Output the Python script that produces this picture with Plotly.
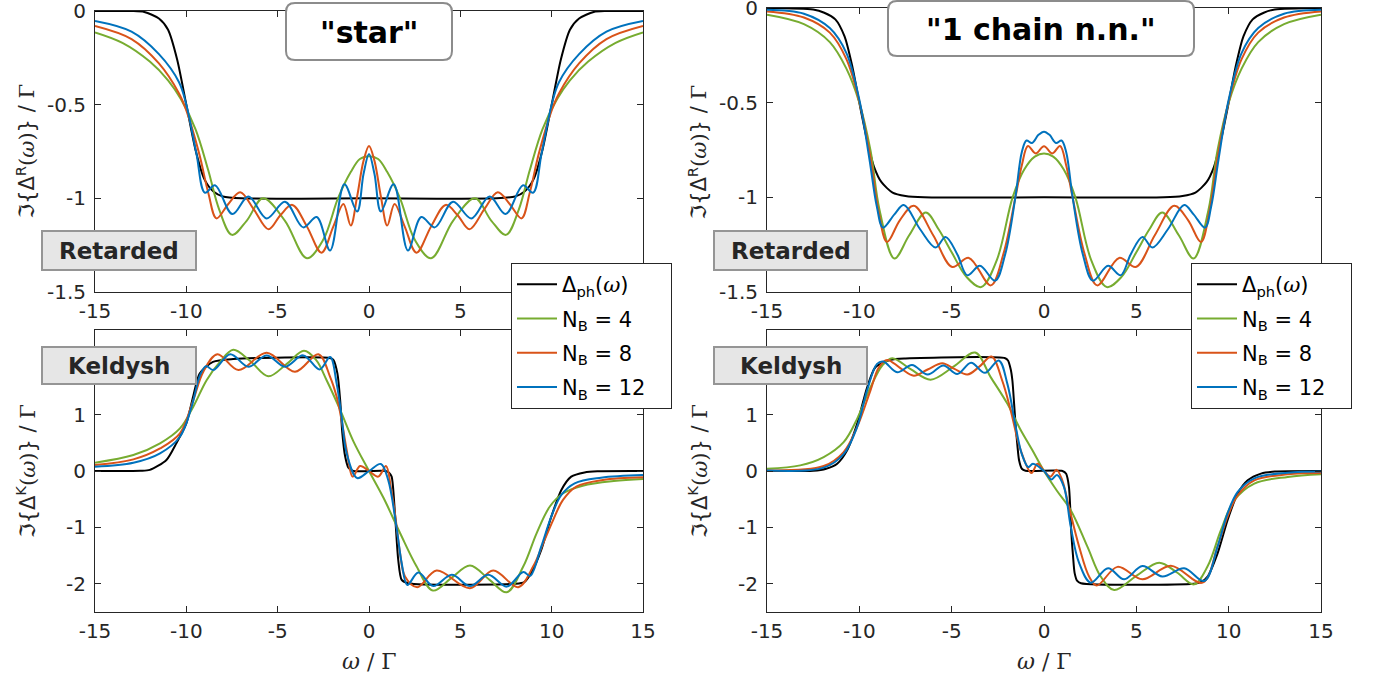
import plotly.graph_objects as go

# ---------------- data ----------------
# Panel A: "star", Retarded
A_ph_x = [-15, -13, -12.3, -11.5, -11, -10.5, -10, -9.5, -9, -8.5, -8, -7, 0, 7, 8, 8.5, 9, 9.5, 10, 10.5, 11, 11.5, 12.3, 13, 15]
A_ph_y = [0, 0, -0.005, -0.04, -0.1, -0.26, -0.5, -0.74, -0.9, -0.965, -0.99, -1.0, -1.0, -1.0, -0.99, -0.965, -0.9, -0.74, -0.5, -0.26, -0.1, -0.04, -0.005, 0, 0]
A_n4_x = [-15, -13.5, -12, -11, -10.3, -9.5, -8.8, -8.2, -7.5, -6.7, -5.8, -4.6, -3.4, -2.5, -1.7, -1.0, -0.5, 0, 0.5, 1.0, 1.7, 2.5, 3.4, 4.6, 5.8, 6.7, 7.5, 8.2, 8.8, 9.5, 10.3, 11, 12, 13.5, 15]
A_n4_y = [-0.114, -0.17, -0.27, -0.37, -0.47, -0.63, -0.85, -1.06, -1.195, -1.12, -1.0, -1.12, -1.32, -1.22, -1.0, -0.86, -0.79, -0.775, -0.79, -0.86, -1.0, -1.22, -1.32, -1.12, -1.0, -1.12, -1.195, -1.06, -0.85, -0.63, -0.47, -0.37, -0.27, -0.17, -0.114]
A_n8_x = [-15, -13, -11.5, -10.4, -10, -9.3, -8.8, -8.35, -7.7, -7.05, -6.3, -5.5, -4.85, -4.2, -3.4, -2.6, -1.95, -1.4, -1.0, -0.65, -0.3, 0, 0.3, 0.65, 1.0, 1.4, 1.95, 2.6, 3.4, 4.2, 4.85, 5.5, 6.3, 7.05, 7.7, 8.35, 8.8, 9.3, 10, 10.4, 11.5, 13, 15]
A_n8_y = [-0.08, -0.15, -0.28, -0.44, -0.53, -0.76, -0.97, -1.107, -1.03, -0.968, -1.06, -1.165, -1.09, -1.035, -1.15, -1.29, -1.15, -1.03, -1.145, -0.99, -0.80, -0.72, -0.80, -0.99, -1.145, -1.03, -1.15, -1.29, -1.15, -1.035, -1.09, -1.165, -1.06, -0.968, -1.03, -1.107, -0.97, -0.76, -0.53, -0.44, -0.28, -0.15, -0.08]
A_n12_x = [-15, -13, -11.5, -10.4, -10, -9.45, -8.98, -8.43, -7.48, -6.6, -5.6, -4.6, -3.6, -2.86, -2.13, -1.35, -0.65, -0.3, 0, 0.3, 0.65, 1.35, 2.13, 2.86, 3.6, 4.6, 5.6, 6.6, 7.48, 8.43, 8.98, 9.45, 10, 10.4, 11.5, 13, 15]
A_n12_y = [-0.053, -0.11, -0.23, -0.38, -0.50, -0.76, -0.97, -0.93, -1.084, -0.99, -1.107, -1.018, -1.155, -1.10, -1.278, -0.925, -1.07, -0.87, -0.763, -0.87, -1.07, -0.925, -1.278, -1.10, -1.155, -1.018, -1.107, -0.99, -1.084, -0.93, -0.97, -0.76, -0.50, -0.38, -0.23, -0.11, -0.053]

# Panel B: "1 chain n.n.", Retarded
B_ph_x = [-15, -12.5, -11.9, -11.3, -10.8, -10.4, -10, -9.6, -9.2, -8.8, -8.2, -7.5, -6.5, 0, 6.5, 7.5, 8.2, 8.8, 9.2, 9.6, 10, 10.4, 10.8, 11.3, 11.9, 12.5, 15]
B_ph_y = [0, -0.008, -0.025, -0.06, -0.15, -0.3, -0.5, -0.69, -0.84, -0.92, -0.975, -0.993, -1.0, -1.0, -1.0, -0.993, -0.975, -0.92, -0.84, -0.69, -0.5, -0.3, -0.15, -0.06, -0.025, -0.008, 0]
B_n4_x = [-15, -13, -11.6, -10.7, -10, -9.4, -8.9, -8.1, -7.3, -6.4, -5.7, -5.0, -4.2, -3.4, -2.55, -1.7, -1.07, -0.5, 0, 0.5, 1.07, 1.7, 2.55, 3.4, 4.2, 5.0, 5.7, 6.4, 7.3, 8.1, 8.9, 9.4, 10, 10.7, 11.6, 13, 15]
B_n4_y = [-0.035, -0.085, -0.18, -0.32, -0.50, -0.75, -1.07, -1.323, -1.2, -1.08, -1.17, -1.29, -1.42, -1.474, -1.33, -1.0, -0.853, -0.785, -0.768, -0.785, -0.853, -1.0, -1.33, -1.474, -1.42, -1.29, -1.17, -1.08, -1.2, -1.323, -1.07, -0.75, -0.50, -0.32, -0.18, -0.085, -0.035]
B_n8_x = [-15, -13, -11.6, -10.7, -10, -9.4, -8.95, -8.5, -7.8, -7.05, -6.0, -4.97, -4.07, -2.88, -2.2, -1.55, -1.2, -0.87, -0.45, 0, 0.45, 0.87, 1.2, 1.55, 2.2, 2.88, 4.07, 4.97, 6.0, 7.05, 7.8, 8.5, 8.95, 9.4, 10, 10.7, 11.6, 13, 15]
B_n8_y = [-0.018, -0.05, -0.13, -0.27, -0.494, -0.79, -1.08, -1.236, -1.12, -1.045, -1.2, -1.368, -1.32, -1.465, -1.3, -1.0, -0.83, -0.729, -0.768, -0.73, -0.768, -0.729, -0.83, -1.0, -1.3, -1.465, -1.32, -1.368, -1.2, -1.045, -1.12, -1.236, -1.08, -0.79, -0.494, -0.27, -0.13, -0.05, -0.018]
B_n12_x = [-15, -13, -11.6, -10.7, -10, -9.45, -9.05, -8.72, -8.1, -7.59, -6.7, -5.87, -5.33, -4.7, -4.15, -3.47, -2.65, -2.1, -1.55, -1.2, -0.95, -0.65, -0.3, 0, 0.3, 0.65, 0.95, 1.2, 1.55, 2.1, 2.65, 3.47, 4.15, 4.7, 5.33, 5.87, 6.7, 7.59, 8.1, 8.72, 9.05, 9.45, 10, 10.7, 11.6, 13, 15]
B_n12_y = [-0.009, -0.03, -0.106, -0.238, -0.485, -0.80, -1.05, -1.16, -1.09, -1.041, -1.17, -1.265, -1.209, -1.3, -1.412, -1.362, -1.44, -1.3, -1.0, -0.76, -0.70, -0.713, -0.67, -0.653, -0.67, -0.713, -0.70, -0.76, -1.0, -1.3, -1.44, -1.362, -1.412, -1.3, -1.209, -1.265, -1.17, -1.041, -1.09, -1.16, -1.05, -0.80, -0.485, -0.238, -0.106, -0.03, -0.009]

# Panel C: "star", Keldysh
C_ph_x = [-15, -12.5, -12, -11.09, -10.55, -10, -9.63, -9.27, -8.54, -7.44, -2.1, -1.95, -1.73, -1.58, -1.46, -1.31, -1.13, -0.86, 0, 0.9, 1.1, 1.24, 1.42, 1.6, 1.79, 2.15, 8.0, 8.5, 8.88, 9.43, 9.98, 10.53, 11.07, 11.8, 12.5, 15]
C_ph_y = [0, 0.003, 0.02, 0.195, 0.49, 0.844, 1.315, 1.73, 1.935, 1.985, 2.0, 1.97, 1.73, 1.26, 0.67, 0.265, 0.06, 0.0, 0.0, 0.0, -0.03, -0.1, -0.75, -1.575, -1.93, -1.99, -2.0, -1.97, -1.81, -1.4, -0.81, -0.336, -0.1, -0.025, -0.005, 0]
C_n4_x = [-15, -12.9, -11.44, -10.35, -9.62, -8.89, -8.16, -7.43, -6.5, -5.51, -4.5, -3.56, -2.9, -2.32, -1.6, -0.86, 0, 0.8, 1.7, 2.6, 3.5, 4.5, 5.53, 6.6, 7.54, 8.45, 9.18, 9.9, 10.63, 11.7, 13.4, 15]
C_n4_y = [0.147, 0.283, 0.49, 0.755, 1.14, 1.61, 1.935, 2.15, 1.95, 1.68, 1.9, 2.13, 1.97, 1.61, 1.1, 0.53, 0.0, -0.48, -1.10, -1.69, -2.12, -1.9, -1.675, -1.93, -2.15, -1.69, -1.10, -0.63, -0.395, -0.26, -0.177, -0.142]
C_n8_x = [-15, -12.9, -11.44, -10.35, -9.62, -9.07, -8.3, -7.15, -5.6, -4.05, -2.77, -2.13, -1.77, -1.5, -1.22, -0.89, -0.49, 0, 0.51, 0.93, 1.2, 1.42, 1.7, 1.97, 2.64, 3.7, 5.53, 6.8, 8.17, 8.99, 9.54, 10.08, 10.62, 11.35, 12.8, 15]
C_n8_y = [0.106, 0.206, 0.40, 0.667, 1.257, 1.76, 2.07, 1.79, 2.095, 1.76, 2.07, 1.67, 1.315, 0.90, 0.37, -0.10, 0.088, 0.0, -0.10, 0.088, -0.3, -0.75, -1.457, -1.87, -2.06, -1.765, -2.077, -1.765, -2.06, -1.69, -1.28, -0.87, -0.513, -0.277, -0.16, -0.112]
C_n12_x = [-15, -12.9, -11.44, -10.35, -9.71, -9.25, -8.92, -8.52, -7.6, -6.6, -5.6, -4.6, -3.6, -2.7, -2.13, -1.77, -1.5, -1.22, -0.65, 0, 0.65, 1.05, 1.5, 1.79, 2.1, 2.7, 3.52, 4.53, 5.53, 6.53, 7.54, 8.45, 8.82, 9.43, 9.98, 10.53, 11.26, 12.7, 15]
C_n12_y = [0.077, 0.147, 0.313, 0.607, 1.14, 1.70, 1.86, 1.79, 2.07, 1.85, 2.05, 1.85, 2.05, 1.80, 2.02, 1.55, 0.96, 0.31, -0.125, 0.0, 0.125, -0.16, -0.985, -1.635, -2.02, -1.80, -2.04, -1.84, -2.04, -1.84, -2.05, -1.79, -1.86, -1.34, -0.81, -0.425, -0.218, -0.118, -0.071]

# Panel D: "1 chain n.n.", Keldysh
D_ph_x = [-15, -12.5, -11.8, -11.2, -10.66, -10.12, -9.58, -9.13, -8.31, -7.5, -2.1, -1.95, -1.8, -1.71, -1.62, -1.53, -1.44, -1.35, -1.2, -1.0, 1.0, 1.2, 1.35, 1.42, 1.48, 1.57, 1.66, 1.8, 2.0, 8.1, 8.5, 8.86, 9.4, 9.94, 10.49, 11.03, 11.75, 12.5, 15]
D_ph_y = [0, 0.005, 0.04, 0.13, 0.366, 0.837, 1.48, 1.84, 1.97, 1.995, 2.0, 1.96, 1.8, 1.6, 1.2, 0.78, 0.45, 0.19, 0.04, 0.005, 0, -0.05, -0.28, -0.65, -1.1, -1.5, -1.81, -1.95, -1.99, -2.0, -1.97, -1.87, -1.46, -0.87, -0.4, -0.165, -0.047, -0.01, 0]
D_n4_x = [-15, -13.2, -11.93, -10.85, -10.12, -9.4, -8.76, -8.22, -7.2, -6.14, -4.9, -3.73, -2.88, -1.98, -1.3, -0.65, 0, 0.7, 1.45, 2.35, 3.07, 3.8, 5.0, 6.24, 7.2, 8.13, 8.86, 9.58, 10.3, 11.39, 13.2, 15]
D_n4_y = [0.042, 0.10, 0.248, 0.512, 0.925, 1.48, 1.87, 2.0, 1.8, 1.62, 1.85, 2.10, 1.66, 1.19, 0.75, 0.38, 0.0, -0.35, -0.694, -1.34, -1.87, -2.11, -1.86, -1.625, -1.8, -2.01, -1.69, -1.05, -0.52, -0.223, -0.105, -0.058]
D_n8_x = [-15, -11.93, -10.85, -10.12, -9.4, -8.94, -8.49, -7.8, -7.05, -6.3, -5.51, -4.85, -4.15, -3.5, -2.84, -2.26, -1.8, -1.26, -0.68, -0.35, 0, 0.35, 0.68, 0.99, 1.35, 1.9, 2.44, 2.86, 3.98, 5.33, 6.87, 8.59, 9.4, 9.94, 10.49, 11.39, 13.2, 15]
D_n8_y = [0.01, 0.088, 0.336, 0.778, 1.426, 1.84, 1.97, 1.83, 1.69, 1.80, 1.91, 1.81, 1.71, 1.85, 2.03, 1.6, 1.07, 0.366, -0.035, 0.13, 0.0, -0.10, 0.02, -0.165, -0.636, -1.34, -1.87, -2.03, -1.70, -1.92, -1.68, -1.98, -1.34, -0.81, -0.43, -0.165, -0.058, -0.035]
D_n12_x = [-15, -11.93, -10.85, -10.12, -9.58, -9.04, -8.7, -7.95, -7.15, -6.3, -5.45, -4.7, -3.95, -3.2, -2.45, -1.98, -1.53, -1.2, -0.85, -0.6, 0, 0.4, 0.7, 1.08, 1.45, 1.9, 2.53, 3.47, 4.34, 5.33, 6.41, 7.59, 8.68, 9.4, 9.94, 10.49, 11.39, 13.2, 15]
D_n12_y = [0.01, 0.06, 0.30, 0.78, 1.43, 1.9, 1.94, 1.75, 1.88, 1.71, 1.87, 1.72, 1.92, 1.74, 1.96, 1.54, 0.78, 0.3, 0.07, 0.13, 0.0, -0.15, -0.07, -0.28, -0.99, -1.63, -1.98, -1.725, -1.92, -1.685, -1.87, -1.725, -1.95, -1.34, -0.75, -0.37, -0.13, -0.03, -0.01]

SERIES_NAMES = ["Δ<sub>ph</sub>(<span style='font-family:DejaVu Serif'><i>ω</i></span>)",
                "N<sub>B</sub> = 4", "N<sub>B</sub> = 8", "N<sub>B</sub> = 12"]
X_TICKS = [-15, -10, -5, 0, 5, 10, 15]
X_TICKTEXT = ["-15", "-10", "-5", "0", "5", "10", "15"]
YR_TICKS = [-1.5, -1, -0.5, 0]
YR_TICKTEXT = ["-1.5", "-1", "-0.5", "0"]
YK_TICKS = [-2, -1, 0, 1, 2]
YK_TICKTEXT = ["-2", "-1", "0", "1", "2"]
PANEL_TITLES = ['"star"', '"1 chain n.n."']

# ---------------- styling ----------------
W, H = 1379, 678
FONT = "DejaVu Sans"
SERIF = "DejaVu Serif"
AX = "#262626"
COLORS = ["#000000", "#77AC30", "#D95319", "#0072BD"]
LEGEND_PAD = "\u00a0" * 3   # widens the legend box like the reference


def px(x):
    return x / W


def py(y):
    return 1 - y / H


fig = go.Figure()

panels = [
    ("x", "y", [(A_ph_x, A_ph_y), (A_n4_x, A_n4_y), (A_n8_x, A_n8_y), (A_n12_x, A_n12_y)], "legend"),
    ("x2", "y2", [(B_ph_x, B_ph_y), (B_n4_x, B_n4_y), (B_n8_x, B_n8_y), (B_n12_x, B_n12_y)], "legend2"),
    ("x3", "y3", [(C_ph_x, C_ph_y), (C_n4_x, C_n4_y), (C_n8_x, C_n8_y), (C_n12_x, C_n12_y)], None),
    ("x4", "y4", [(D_ph_x, D_ph_y), (D_n4_x, D_n4_y), (D_n8_x, D_n8_y), (D_n12_x, D_n12_y)], None),
]

for p, (xr, yr, series, leg) in enumerate(panels):
    for i, (xs, ys) in enumerate(series):
        fig.add_trace(go.Scatter(
            x=xs, y=ys, mode="lines", xaxis=xr, yaxis=yr,
            name=SERIES_NAMES[i] + LEGEND_PAD,
            legendgroup=f"p{p}s{i}",
            line=dict(color=COLORS[i], width=2, shape="spline",
                      smoothing=0.7 if i == 0 else 1.0),
            showlegend=leg is not None,
            legend=leg if leg else "legend",
            hoverinfo="skip",
        ))

axis_common = dict(showline=True, linecolor=AX, linewidth=1, mirror="ticks",
                   ticks="inside", ticklen=6, tickwidth=1, tickcolor=AX,
                   showgrid=False, zeroline=False, fixedrange=True,
                   ticklabeloverflow="allow",
                   tickfont=dict(family=FONT, size=20, color=AX))

XL = (95, 643)
XR = (767, 1321)
YT_L = (11, 292)
YT_R = (8, 292)
YB = (330, 612)


def xdom(a):
    return [px(a[0]), px(a[1])]


def ydom(a):
    return [py(a[1]), py(a[0])]


xa = dict(axis_common, range=[-15, 15], tickvals=X_TICKS, ticktext=X_TICKTEXT, ticklabelstandoff=1)
ya_r = dict(axis_common, range=[-1.5, 0], tickvals=YR_TICKS, ticktext=YR_TICKTEXT, ticklabelstandoff=4)
ya_k = dict(axis_common, range=[-2.5, 2.5], tickvals=YK_TICKS, ticktext=YK_TICKTEXT, ticklabelstandoff=4)

fig.update_layout(
    xaxis=dict(xa, domain=xdom(XL), anchor="y"),
    yaxis=dict(ya_r, domain=ydom(YT_L), anchor="x"),
    xaxis2=dict(xa, domain=xdom(XR), anchor="y2"),
    yaxis2=dict(ya_r, domain=ydom(YT_R), anchor="x2"),
    xaxis3=dict(xa, domain=xdom(XL), anchor="y3"),
    yaxis3=dict(ya_k, domain=ydom(YB), anchor="x3"),
    xaxis4=dict(xa, domain=xdom(XR), anchor="y4"),
    yaxis4=dict(ya_k, domain=ydom(YB), anchor="x4"),
)

legend_common = dict(xanchor="left", yanchor="top", bgcolor="white",
                     bordercolor=AX, borderwidth=1, traceorder="grouped",
                     font=dict(family=FONT, size=21, color="#000000"),
                     itemwidth=40, tracegroupgap=4)
fig.update_layout(
    legend=dict(legend_common, x=px(511), y=py(263)),
    legend2=dict(legend_common, x=px(1191), y=py(263)),
)

shapes = []
annotations = []


def rrect_path(x0, y0, x1, y1, r):
    def P(x, y):
        return f"{px(x):.6f},{py(y):.6f}"
    return (f"M{P(x0 + r, y0)} L{P(x1 - r, y0)} Q{P(x1, y0)} {P(x1, y0 + r)} "
            f"L{P(x1, y1 - r)} Q{P(x1, y1)} {P(x1 - r, y1)} "
            f"L{P(x0 + r, y1)} Q{P(x0, y1)} {P(x0, y1 - r)} "
            f"L{P(x0, y0 + r)} Q{P(x0, y0)} {P(x0 + r, y0)} Z")


# Panel title boxes (rounded)
for (x0, y0, x1, y1), title in [((286, 3, 452, 60), PANEL_TITLES[0]), ((888, 1, 1194, 56), PANEL_TITLES[1])]:
    shapes.append(dict(type="path", xref="paper", yref="paper", layer="above",
                       path=rrect_path(x0, y0, x1, y1, 9),
                       fillcolor="white", line=dict(color="#8c8c8c", width=2)))
    annotations.append(dict(x=px((x0 + x1) / 2), y=py((y0 + y1) / 2 + 1), xref="paper", yref="paper",
                            text=title, showarrow=False, xanchor="center", yanchor="middle",
                            font=dict(family=FONT, size=30, color="#000000", weight="bold")))

# Retarded / Keldysh labels
for (x0, y0, x1, y1), label in [((42, 231, 196, 270), "Retarded"), ((714, 231, 867, 270), "Retarded"),
                                ((42, 347, 196, 384), "Keldysh"), ((714, 347, 867, 384), "Keldysh")]:
    shapes.append(dict(type="rect", xref="paper", yref="paper", layer="above",
                       x0=px(x0), x1=px(x1), y0=py(y1), y1=py(y0),
                       fillcolor="#e6e6e6", line=dict(color="#959595", width=2)))
    annotations.append(dict(x=px((x0 + x1) / 2), y=py((y0 + y1) / 2), xref="paper", yref="paper",
                            text=label, showarrow=False, xanchor="center", yanchor="middle",
                            font=dict(family=FONT, size=23, color="#262626", weight="bold")))

# y-axis titles
w_span = "<span style='font-family:%s'>" % SERIF
for xc in (26, 698):
    for yc, sup in (((YT_L[0] + YT_L[1]) / 2, "R"), ((YB[0] + YB[1]) / 2, "K")):
        annotations.append(dict(
            x=px(xc), y=py(yc), xref="paper", yref="paper", textangle=-90,
            text="ℑ{Δ<sup>%s</sup>%s(<i>ω</i>)</span>} / %sΓ</span>" % (sup, w_span, w_span),
            showarrow=False, xanchor="center", yanchor="middle",
            font=dict(family=FONT, size=21, color=AX)))

# x-axis titles
for xc in ((XL[0] + XL[1]) / 2, (XR[0] + XR[1]) / 2):
    annotations.append(dict(x=px(xc), y=py(661), xref="paper", yref="paper",
                            text="<i>ω</i> / Γ", showarrow=False, xanchor="center", yanchor="middle",
                            font=dict(family=SERIF, size=22, color=AX)))

fig.update_layout(
    width=W, height=H, margin=dict(l=0, r=0, t=0, b=0, pad=0, autoexpand=False),
    paper_bgcolor="white", plot_bgcolor="white",
    shapes=shapes, annotations=annotations,
    font=dict(family=FONT, color=AX),
)

fig.write_html("out.html",
               config={"displayModeBar": False},
               post_script="document.body.style.margin='0px';document.body.style.padding='0px';"
                           "document.documentElement.style.overflow='hidden';")
